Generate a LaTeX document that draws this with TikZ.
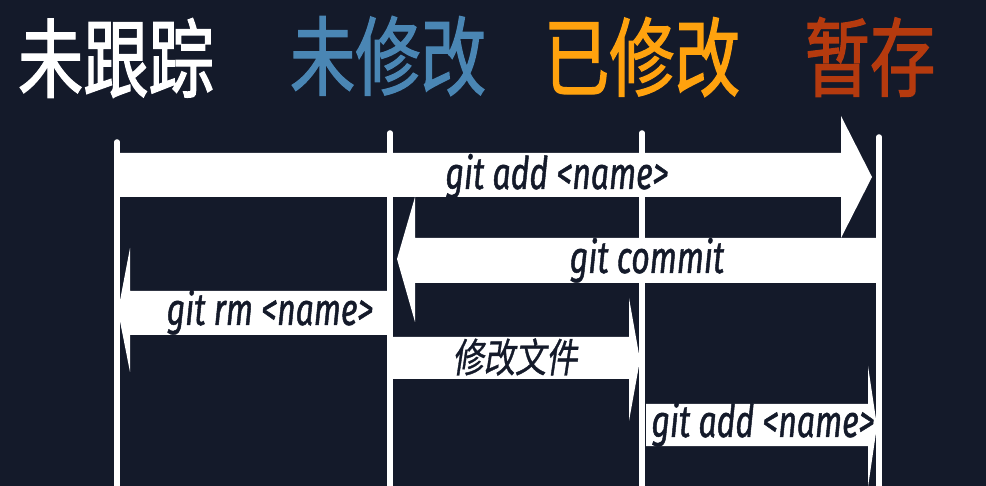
\documentclass[tikz,border=0pt]{standalone}
\usepackage{fontspec}
\newfontfamily\titlefont[FakeStretch=0.76,FakeBold=1.5]{Noto Sans CJK SC}
\newfontfamily\cjklabel[FakeStretch=0.78,FakeSlant=0.15,FakeBold=0.8]{Noto Sans CJK SC}
\newfontfamily\cmdfont[FakeStretch=0.71,FakeBold=1]{Fira Sans}
\definecolor{bgcol}{HTML}{141A2A}
\definecolor{untracked}{HTML}{FFFFFF}
\definecolor{unmod}{HTML}{4A86B4}
\definecolor{modif}{HTML}{FFA20E}
\definecolor{staged}{HTML}{B53A0E}
\tikzset{
  vline/.style={draw=white,line width=5.5pt,line cap=round},
  blockarrow/.style={fill=white,draw=none},
  cmdtext/.style={text=bgcol,font=\cmdfont\itshape\fontsize{45}{45}\selectfont,anchor=base,inner sep=0pt},
  cjktext/.style={text=bgcol,font=\cjklabel\fontsize{40}{40}\selectfont,anchor=center,inner sep=0pt},
  titletext/.style={font=\titlefont\fontsize{86}{86}\selectfont,anchor=center,inner sep=0pt}
}
\begin{document}
\begin{tikzpicture}[x=1pt,y=-1pt]
\fill[bgcol] (0,0) rectangle (986,486);
\useasboundingbox (0,0) rectangle (986,486);
\clip (0,0) rectangle (986,486);
% titles
\node[titletext,text=untracked] (t1) at (116,58) {未跟踪};
\node[titletext,text=unmod] (t2) at (388,56) {未修改};
\node[titletext,text=modif] (t3) at (642,57) {已修改};
\node[titletext,text=staged] (t4) at (870,57) {暂存};
% lanes
\coordinate (l1top) at (117,142); \coordinate (l1bot) at (117,495);
\coordinate (l2top) at (390,133); \coordinate (l2bot) at (390,495);
\coordinate (l3top) at (642,133); \coordinate (l3bot) at (642,495);
\coordinate (l4top) at (879,137); \coordinate (l4bot) at (879,495);
\draw[vline] (l1top) -- (l1bot);
\draw[vline] (l2top) -- (l2bot);
\draw[vline] (l3top) -- (l3bot);
\draw[vline] (l4top) -- (l4bot);
% arrow 1: git add (untracked -> staged)
\fill[blockarrow] (118,153) -- (841,153) -- (841,116) -- (872,177) -- (841,238) -- (841,197) -- (118,197) -- cycle;
% arrow 2: git commit (staged -> unmodified)
\fill[blockarrow] (877,238) -- (415,238) -- (415,197) -- (397,259) -- (415,322) -- (415,283) -- (877,283) -- cycle;
% arrow 3: git rm (unmodified -> untracked)
\fill[blockarrow] (387,291) -- (130,291) -- (130,248) -- (118,311) -- (130,372) -- (130,335) -- (387,335) -- cycle;
% arrow 4: modify (unmodified -> modified)
\fill[blockarrow] (393,337) -- (629,337) -- (629,298) -- (640,360) -- (629,421) -- (629,379) -- (393,379) -- cycle;
% arrow 5: git add (modified -> staged)
\fill[blockarrow] (646,404) -- (868,404) -- (868,366) -- (877,426) -- (868,487) -- (868,446) -- (646,446) -- cycle;
% labels
\node[cmdtext] (a1) at (557,189) {git add <name>};
\node[cmdtext] (a2) at (647,273) {git commit};
\node[cmdtext] (a3) at (270,325) {git rm <name>};
\node[cjktext] (a4) at (515,357) {修改文件};
\node[cmdtext] (a5) at (763,437) {git add <name>};
\end{tikzpicture}
\end{document}
